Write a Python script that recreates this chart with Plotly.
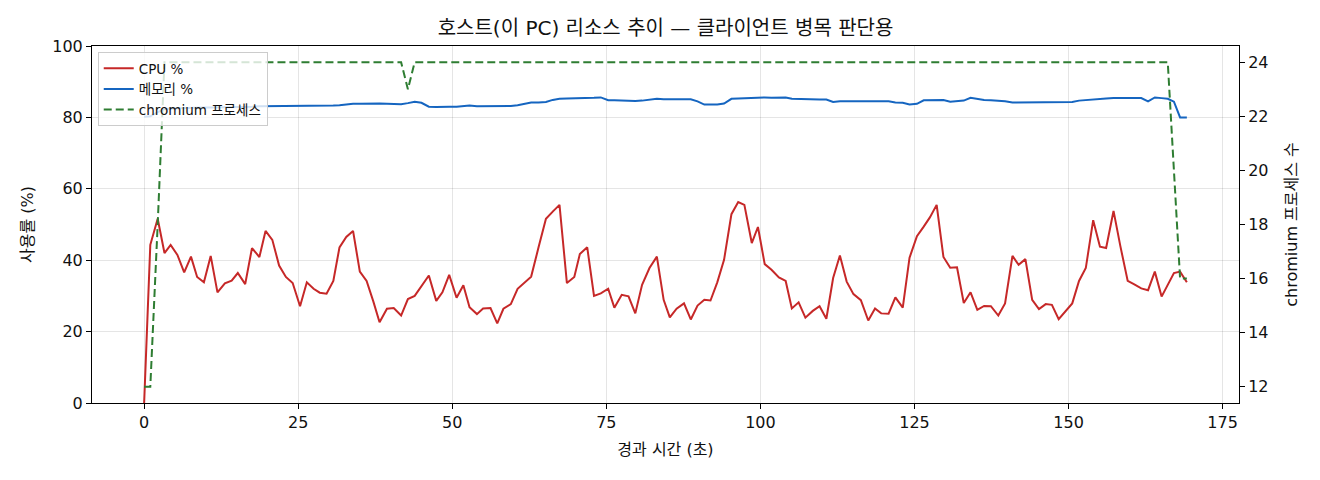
import plotly.graph_objects as go

# elapsed seconds per sample
elapsed = [0.0, 1.0, 2.2, 3.3, 4.3, 5.4, 6.5, 7.6, 8.6, 9.7,
           10.8, 11.9, 13.1, 14.2, 15.2, 16.4, 17.5, 18.7, 19.7, 20.8,
           21.9, 23.0, 24.1, 25.3, 26.4, 27.5, 28.5, 29.6, 30.7, 31.7,
           32.8, 33.9, 35.0, 36.1, 37.2, 38.2, 39.4, 40.5, 41.7, 42.8,
           43.9, 45.0, 46.2, 47.4, 48.4, 49.5, 50.7, 51.8, 52.8, 54.0,
           55.0, 56.2, 57.3, 58.3, 59.5, 60.6, 61.7, 62.8, 64.0, 65.2,
           66.3, 67.4, 68.6, 69.8, 70.7, 71.9, 73.0, 74.1, 75.3, 76.3,
           77.5, 78.6, 79.7, 80.8, 82.0, 83.2, 84.3, 85.3, 86.4, 87.6,
           88.7, 89.8, 90.9, 91.9, 93.0, 94.1, 95.3, 96.4, 97.4, 98.6,
           99.6, 100.7, 101.8, 103.0, 104.1, 105.1, 106.2, 107.3, 108.5, 109.6,
           110.7, 111.8, 112.9, 114.0, 115.1, 116.3, 117.5, 118.6, 119.6, 120.8,
           121.9, 123.1, 124.2, 125.4, 126.5, 127.5, 128.6, 129.7, 130.8, 131.9,
           133.0, 134.1, 135.2, 136.3, 137.4, 138.6, 139.7, 140.9, 141.9, 143.0,
           144.1, 145.2, 146.3, 147.3, 148.4, 149.5, 150.6, 151.7, 152.8, 154.0,
           155.1, 156.1, 157.3, 158.4, 159.6, 160.6, 161.8, 162.9, 164.0, 165.1,
           166.1, 167.1, 168.1, 169.2]

cpu_pct = [0.0, 44.3, 51.6, 42.0, 44.3, 41.5, 36.6, 41.0, 35.3, 33.8,
           41.2, 31.0, 33.5, 34.3, 36.4, 33.3, 43.4, 40.9, 48.2, 45.7,
           38.5, 35.3, 33.6, 27.1, 33.8, 32.0, 30.9, 30.6, 34.2, 43.6,
           46.5, 48.2, 36.8, 34.2, 28.4, 22.6, 26.4, 26.6, 24.5, 29.1,
           30.0, 32.8, 35.7, 28.6, 31.0, 35.9, 29.5, 33.0, 26.8, 24.9,
           26.5, 26.6, 22.3, 26.4, 27.7, 32.0, 33.8, 35.4, 43.6, 51.6,
           53.6, 55.5, 33.6, 35.3, 41.7, 43.6, 30.0, 30.7, 32.0, 26.7,
           30.3, 29.9, 25.1, 33.1, 37.8, 41.0, 28.9, 24.0, 26.4, 27.9,
           23.4, 27.3, 28.9, 28.7, 33.8, 40.1, 52.9, 56.3, 55.5, 44.8,
           49.3, 38.9, 37.3, 35.2, 34.2, 26.5, 28.2, 23.9, 25.8, 27.1,
           23.6, 35.0, 41.3, 34.0, 30.5, 28.8, 23.1, 26.5, 25.1, 25.0,
           29.6, 26.7, 40.7, 46.7, 49.4, 52.0, 55.5, 40.9, 37.9, 38.0,
           28.0, 31.0, 26.1, 27.2, 27.1, 24.5, 27.9, 41.2, 38.7, 40.3,
           28.9, 26.3, 27.7, 27.5, 23.5, 25.8, 27.9, 34.2, 37.8, 51.2,
           43.8, 43.4, 53.8, 44.0, 34.2, 33.3, 32.1, 31.6, 36.8, 29.8,
           32.9, 36.4, 36.8, 33.8]

mem_pct = [80.2, 80.3, 81.5, 82.3, 82.5, 82.6, 82.6, 82.7, 82.7, 82.8,
           82.8, 82.8, 82.9, 82.9, 83.0, 83.0, 83.0, 83.1, 83.1, 83.2,
           83.2, 83.2, 83.2, 83.2, 83.2, 83.1, 83.2, 83.3, 83.3, 83.4,
           83.7, 83.8, 83.8, 83.9, 84.0, 83.9, 83.8, 83.8, 83.7, 84.0,
           84.4, 84.1, 83.0, 82.9, 83.0, 83.0, 83.0, 83.1, 83.3, 83.1,
           83.1, 83.0, 83.1, 83.1, 83.2, 83.4, 83.8, 84.2, 84.2, 84.3,
           84.9, 85.2, 85.3, 85.3, 85.3, 85.3, 85.5, 85.6, 84.8, 84.8,
           84.7, 84.6, 84.6, 84.7, 84.9, 85.2, 85.1, 85.1, 85.1, 85.1,
           85.1, 84.5, 83.6, 83.6, 83.6, 83.9, 85.2, 85.3, 85.4, 85.5,
           85.5, 85.6, 85.5, 85.6, 85.6, 85.2, 85.1, 85.0, 85.1, 85.0,
           85.0, 84.3, 84.5, 84.5, 84.5, 84.5, 84.6, 84.6, 84.6, 84.5,
           84.2, 84.1, 83.6, 83.8, 84.8, 84.8, 84.9, 84.9, 84.4, 84.6,
           84.7, 85.5, 85.1, 84.9, 84.8, 84.7, 84.5, 84.2, 84.2, 84.3,
           84.3, 84.3, 84.4, 84.4, 84.3, 84.3, 84.3, 84.7, 84.9, 85.1,
           85.3, 85.3, 85.4, 85.4, 85.4, 85.5, 85.4, 84.5, 85.6, 85.4,
           85.2, 84.4, 80.0, 80.0]

chromium_procs = [12, 12, 18] + [24] * 36 + [23] + [24] * 111 + [20, 16, 16]

FONT = "DejaVu Sans, Noto Sans CJK KR"

fig = go.Figure()
fig.add_trace(go.Scatter(x=elapsed, y=cpu_pct, name="CPU %", mode="lines",
                         line=dict(color="#c62828", width=2)))
fig.add_trace(go.Scatter(x=elapsed, y=mem_pct, name="메모리 %", mode="lines",
                         line=dict(color="#1565c0", width=2)))
fig.add_trace(go.Scatter(x=elapsed, y=chromium_procs, name="chromium 프로세스", mode="lines",
                         yaxis="y2", line=dict(color="#2e7d32", width=2, dash="8px,4px")))

fig.update_layout(
    width=1304, height=464,
    margin=dict(l=84, r=73, t=38, b=69),
    plot_bgcolor="white", paper_bgcolor="white",
    font=dict(family=FONT, size=16, color="#111"),
    title=dict(text="호스트(이 PC) 리소스 추이 — 클라이언트 병목 판단용", x=0.5, xref="paper",
               xanchor="center", y=0.957, yanchor="middle", font=dict(size=20, color="#111")),
    xaxis=dict(range=[-8.46, 177.66], tickvals=[0, 25, 50, 75, 100, 125, 150, 175],
               showgrid=True, gridcolor="rgba(0,0,0,0.1)", zeroline=False,
               showline=True, linecolor="black", linewidth=1, mirror=True,
               ticks="outside", ticklen=5, tickcolor="black",
               title=dict(text="경과 시간 (초)", font=dict(size=16), standoff=12)),
    yaxis=dict(range=[0, 100], tickvals=[0, 20, 40, 60, 80, 100],
               showgrid=True, gridcolor="rgba(0,0,0,0.1)", zeroline=False,
               showline=True, linecolor="black", linewidth=1,
               ticks="outside", ticklen=5, tickcolor="black",
               title=dict(text="사용률 (%)", font=dict(size=16), standoff=14)),
    yaxis2=dict(range=[11.4, 24.6], tickvals=[12, 14, 16, 18, 20, 22, 24],
                overlaying="y", side="right", showgrid=False, zeroline=False,
                showline=True, linecolor="black", linewidth=1,
                ticks="outside", ticklen=5, tickcolor="black",
                title=dict(text="chromium 프로세스 수", font=dict(size=16), standoff=18)),
    legend=dict(x=0.005, y=0.983, xanchor="left", yanchor="top",
                bgcolor="rgba(255,255,255,0.8)", bordercolor="#cccccc", borderwidth=1,
                font=dict(size=13.5), tracegroupgap=0, itemwidth=30),
    showlegend=True,
)

fig.write_html("out.html")
